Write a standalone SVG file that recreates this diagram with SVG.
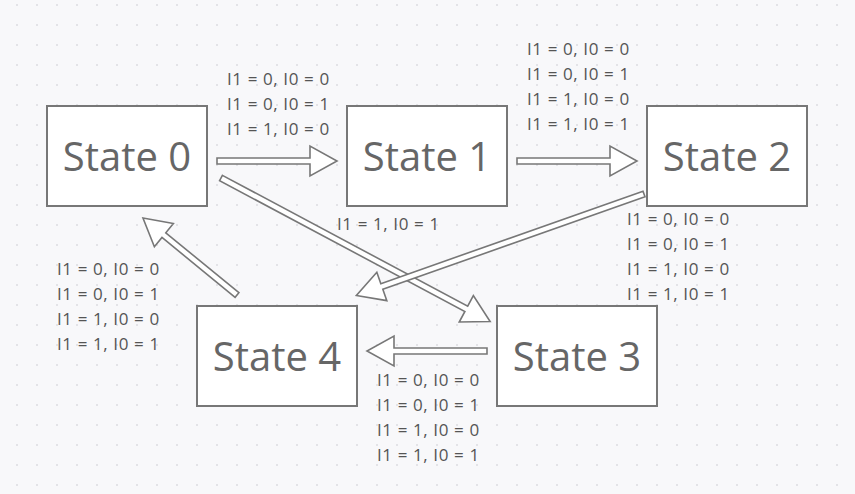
<svg xmlns="http://www.w3.org/2000/svg" width="855" height="494" viewBox="0 0 855 494">
<defs>
<pattern id="dots" x="0" y="0" width="20" height="20" patternUnits="userSpaceOnUse">
<circle cx="17" cy="5" r="1" fill="#dcdce0"/>
</pattern>
</defs>
<style>
.box{fill:#ffffff;stroke:#777777;stroke-width:2}
.title{font-family:"Open Sans","Noto Sans",sans-serif;font-size:40px;fill:#666666;text-anchor:middle}
.lbl{font-family:"Open Sans","Noto Sans",sans-serif;font-size:17px;letter-spacing:0.6px;fill:#555555}
.arr{fill:#ffffff;stroke:#777777;stroke-width:1.6;stroke-linejoin:miter}
</style>
<rect width="855" height="494" fill="#f8f8fa"/>
<rect width="855" height="494" fill="url(#dots)"/>

<g id="connectors">
<g id="e01"><polygon class="arr" points="217,158 310,158 310,146 337,161 310,176 310,164 217,164"/>
<text class="lbl" x="227" y="85">I1 = 0, I0 = 0</text><text class="lbl" x="227" y="110">I1 = 0, I0 = 1</text><text class="lbl" x="227" y="135">I1 = 1, I0 = 0</text></g>
<g id="e12"><polygon class="arr" points="517,158 610,158 610,146 637,161 610,176 610,164 517,164"/>
<text class="lbl" x="527" y="55">I1 = 0, I0 = 0</text><text class="lbl" x="527" y="80">I1 = 0, I0 = 1</text><text class="lbl" x="527" y="105">I1 = 1, I0 = 0</text><text class="lbl" x="527" y="130">I1 = 1, I0 = 1</text></g>
<g id="e03"><polygon class="arr" transform="translate(221,178) rotate(28.07)" points="0,-3 278,-3 278,-15 305,0 278,15 278,3 0,3"/>
<text class="lbl" x="337" y="230">I1 = 1, I0 = 1</text></g>
<g id="e24"><polygon class="arr" transform="translate(644,194) rotate(160.57)" points="0,-3 278,-3 278,-15 305,0 278,15 278,3 0,3"/>
<text class="lbl" x="627" y="225">I1 = 0, I0 = 0</text><text class="lbl" x="627" y="250">I1 = 0, I0 = 1</text><text class="lbl" x="627" y="275">I1 = 1, I0 = 0</text><text class="lbl" x="627" y="300">I1 = 1, I0 = 1</text></g>
<g id="e34"><polygon class="arr" points="487,348 394,348 394,336 367,351 394,366 394,354 487,354"/>
<text class="lbl" x="377" y="386">I1 = 0, I0 = 0</text><text class="lbl" x="377" y="411">I1 = 0, I0 = 1</text><text class="lbl" x="377" y="436">I1 = 1, I0 = 0</text><text class="lbl" x="377" y="461">I1 = 1, I0 = 1</text></g>
<g id="e40"><polygon class="arr" transform="translate(237,295) rotate(-140.7)" points="0,-3 94.5,-3 94.5,-15 121.5,0 94.5,15 94.5,3 0,3"/>
<text class="lbl" x="57" y="275">I1 = 0, I0 = 0</text><text class="lbl" x="57" y="300">I1 = 0, I0 = 1</text><text class="lbl" x="57" y="325">I1 = 1, I0 = 0</text><text class="lbl" x="57" y="350">I1 = 1, I0 = 1</text></g>
</g>

<g id="state0"><rect class="box" x="47" y="106" width="160" height="100"/><text class="title" x="127" y="171">State 0</text></g>
<g id="state1"><rect class="box" x="347" y="106" width="160" height="100"/><text class="title" x="427" y="171">State 1</text></g>
<g id="state2"><rect class="box" x="647" y="106" width="160" height="100"/><text class="title" x="727" y="171">State 2</text></g>
<g id="state3"><rect class="box" x="497" y="306" width="160" height="100"/><text class="title" x="577" y="371">State 3</text></g>
<g id="state4"><rect class="box" x="197" y="306" width="160" height="100"/><text class="title" x="277" y="371">State 4</text></g>
</svg>
